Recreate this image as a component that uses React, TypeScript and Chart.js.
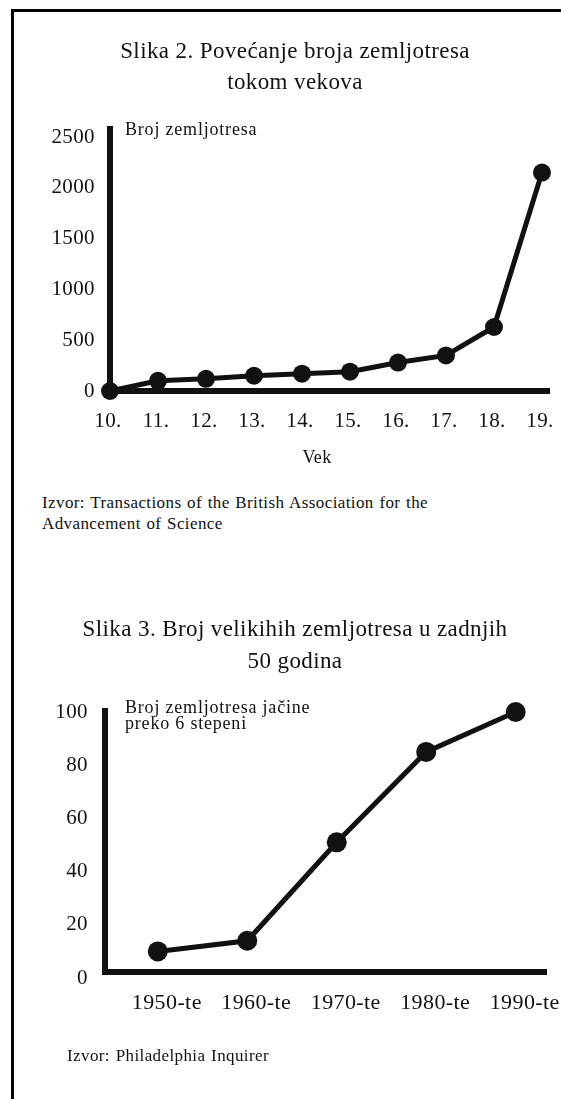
import React, { useEffect, useRef } from "react";
import { Chart, registerables } from "chart.js";

Chart.register(...registerables);

const FONT = "'Liberation Serif', 'Times New Roman', serif";
const INK = "#111111";

// ---- Chart 1 data ----
const centuries = ["10.", "11.", "12.", "13.", "14.", "15.", "16.", "17.", "18.", "19."];
const quakesPerCentury = [0, 100, 120, 150, 170, 190, 280, 350, 630, 2150];
const yTicks1 = [0, 500, 1000, 1500, 2000, 2500];
const title1 = ["Slika 2. Povećanje broja zemljotresa", "tokom vekova"];
const yLabel1 = ["Broj zemljotresa"];
const xTitle1 = "Vek";
const source1 = ["Izvor: Transactions of the British Association for the", "Advancement of Science"];

// ---- Chart 2 data ----
const decades = ["1950-te", "1960-te", "1970-te", "1980-te", "1990-te"];
const majorQuakes = [10, 14, 51, 85, 100];
const yTicks2 = [0, 20, 40, 60, 80, 100];
const title2 = ["Slika 3. Broj velikihih zemljotresa u zadnjih", "50 godina"];
const yLabel2 = ["Broj zemljotresa jačine", "preko 6 stepeni"];
const source2 = ["Izvor: Philadelphia Inquirer"];

const handAxes = {
  id: "handAxes",
  beforeDraw(chart: any, _args: any, opts: any) {
    (chart.ctx as any).letterSpacing = opts.spacing || "0px";
  },
  beforeDatasetsDraw(chart: any, _args: any, opts: any) {
    const { ctx, chartArea: a, scales } = chart;
    const yZero = scales.y.getPixelForValue(0) + (opts.xLineShift || 0);
    const w = opts.width;
    ctx.save();
    ctx.strokeStyle = INK;
    ctx.lineWidth = w;
    ctx.lineCap = "butt";
    ctx.beginPath();
    ctx.moveTo(a.left, a.top - opts.yOver);
    ctx.lineTo(a.left, yZero + w / 2);
    ctx.moveTo(a.left - w / 2, yZero);
    ctx.lineTo(a.right, yZero);
    ctx.stroke();
    ctx.fillStyle = INK;
    ctx.font = opts.labelFont;
    (ctx as any).letterSpacing = opts.labelSpacing;
    ctx.textBaseline = "middle";
    ctx.textAlign = "left";
    (opts.label as string[]).forEach((t, i) => {
      ctx.fillText(t, a.left + opts.labelDx, a.top + opts.labelDy + i * opts.labelLh);
    });
    if (opts.xTitle) {
      ctx.font = opts.xTitleFont;
      (ctx as any).letterSpacing = "0.3px";
      ctx.textAlign = "center";
      ctx.fillText(opts.xTitle, (a.left + a.right) / 2 + opts.xTitleDx, a.bottom + opts.xTitleDy);
    }
    ctx.restore();
  },
};

function makeConfig(p: any) {
  return {
    type: "line",
    data: {
      datasets: [
        {
          data: p.values.map((v: number, i: number) => ({ x: i, y: v })),
          borderColor: INK,
          backgroundColor: INK,
          borderWidth: p.lineWidth,
          pointRadius: p.pointRadius,
          pointHoverRadius: p.pointRadius,
          pointBackgroundColor: INK,
          pointBorderWidth: 0,
          tension: 0,
          clip: false,
        },
      ],
    },
    options: {
      animation: false,
      responsive: false,
      events: [],
      layout: { padding: p.padding },
      plugins: {
        legend: { display: false },
        tooltip: { enabled: false },
        title: {
          display: true,
          text: p.title,
          color: INK,
          font: { family: FONT, size: p.titleSize, weight: "normal", lineHeight: p.titleLh / p.titleSize },
          padding: p.titlePadding,
        },
        handAxes: p.axes,
      },
      scales: {
        x: {
          type: "linear",
          min: p.xMin,
          max: p.xMax,
          grid: { display: false, drawTicks: false },
          border: { display: false },
          afterBuildTicks: (s: any) => {
            s.ticks = p.cats.map((_: string, i: number) => ({ value: i }));
          },
          afterFit: (s: any) => {
            s.height = p.xHeight;
            s.paddingLeft = 0;
            s.paddingRight = 0;
          },
          ticks: {
            callback: (v: number) => p.cats[Math.round(v)],
            color: INK,
            font: { family: FONT, size: p.xTickSize },
            padding: p.xTickPad,
            labelOffset: p.xLabelOffset || 0,
            autoSkip: false,
            maxRotation: 0,
            minRotation: 0,
          },
        },
        y: {
          min: p.yTicks[0],
          max: p.yTicks[p.yTicks.length - 1],
          grid: { display: false, drawTicks: false },
          border: { display: false },
          afterBuildTicks: (s: any) => {
            s.ticks = p.yTicks.map((v: number) => ({ value: v }));
          },
          afterFit: (s: any) => {
            s.width = p.yWidth;
          },
          ticks: {
            callback: (v: number) => String(v),
            color: INK,
            font: { family: FONT, size: p.yTickSize },
            padding: p.yTickPad,
          },
        },
      },
    },
    plugins: [handAxes],
  };
}

function ChartCanvas({ cfg, top, height }: { cfg: any; top: number; height: number }) {
  const ref = useRef<HTMLCanvasElement | null>(null);
  useEffect(() => {
    if (!ref.current) return;
    const chart = new Chart(ref.current, cfg);
    return () => chart.destroy();
  }, [cfg]);
  return (
    <canvas
      ref={ref}
      width={561}
      height={height}
      style={{ position: "absolute", left: 0, top, width: 561, height, display: "block" }}
    />
  );
}

const cfg1 = makeConfig({
  values: quakesPerCentury,
  cats: centuries,
  yTicks: yTicks1,
  title: title1,
  titleSize: 23,
  titleLh: 31,
  titlePadding: { top: 36.5, bottom: 38.5 },
  padding: { left: 40, right: 11, top: 0, bottom: 0 },
  xMin: 0,
  xMax: 9.167,
  xHeight: 89,
  xTickSize: 21,
  xTickPad: 17.4,
  xLabelOffset: -2,
  yWidth: 70,
  yTickSize: 21,
  yTickPad: 15,
  lineWidth: 5,
  pointRadius: 9,
  axes: {
    spacing: "0.4px",
    width: 6,
    yOver: 11,
    xLineShift: 0,
    label: yLabel1,
    labelFont: `18px ${FONT}`,
    labelSpacing: "0.8px",
    labelDx: 15,
    labelDy: -7,
    labelLh: 16,
    xTitle: xTitle1,
    xTitleFont: `18px ${FONT}`,
    xTitleDx: -13,
    xTitleDy: 67,
  },
});

const cfg2 = makeConfig({
  values: majorQuakes,
  cats: decades,
  yTicks: yTicks2,
  title: title2,
  titleSize: 23,
  titleLh: 32,
  titlePadding: { top: 54, bottom: 34 },
  padding: { left: 43, right: 14, top: 0, bottom: 0 },
  xMin: -0.59,
  xMax: 4.35,
  xHeight: 121,
  xTickSize: 22,
  xTickPad: 11.8,
  xLabelOffset: 9,
  yWidth: 62,
  yTickSize: 21,
  yTickPad: 17,
  lineWidth: 5,
  pointRadius: 10,
  axes: {
    spacing: "0.4px",
    width: 6,
    yOver: 4,
    xLineShift: -6,
    label: yLabel2,
    labelFont: `18px ${FONT}`,
    labelSpacing: "0.8px",
    labelDx: 20,
    labelDy: -4,
    labelLh: 16,
  },
});

const srcStyle: React.CSSProperties = {
  position: "absolute",
  margin: 0,
  fontFamily: FONT,
  fontSize: 17,
  letterSpacing: "0.4px",
  wordSpacing: "1px",
  lineHeight: "21px",
  color: INK,
  whiteSpace: "nowrap",
};

export default function App() {
  return (
    <div>
      <div
        style={{
          position: "absolute",
          left: 11,
          top: 9,
          width: 550,
          height: 1090,
          boxSizing: "border-box",
          borderTop: "3px solid #000",
          borderLeft: "3px solid #000",
        }}
      />
      <ChartCanvas cfg={cfg1} top={0} height={480} />
      <div style={{ ...srcStyle, left: 42, top: 491.5 }}>
        {source1.map((t, i) => (
          <div key={i}>{t}</div>
        ))}
      </div>
      <ChartCanvas cfg={cfg2} top={560} height={539} />
      <div style={{ ...srcStyle, left: 67, top: 1044.5 }}>
        {source2.map((t, i) => (
          <div key={i}>{t}</div>
        ))}
      </div>
    </div>
  );
}
